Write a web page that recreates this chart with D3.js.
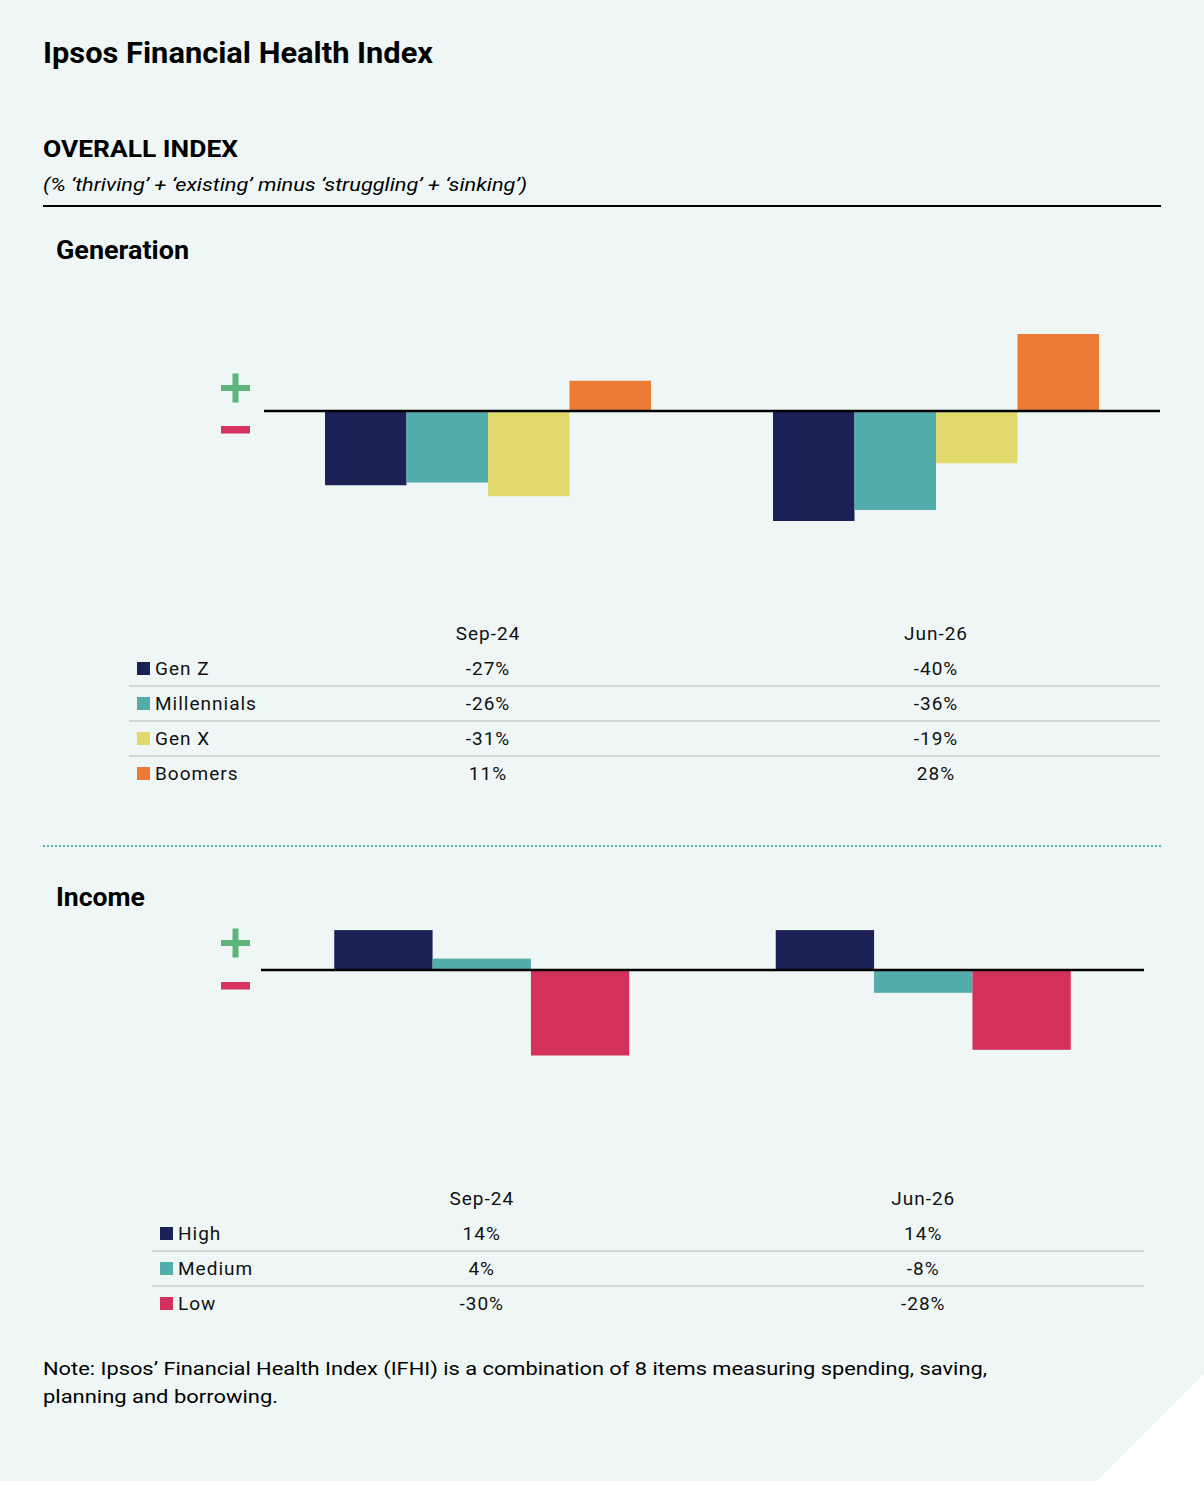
<!DOCTYPE html>
<html>
<head>
<meta charset="utf-8">
<script src="https://cdn.jsdelivr.net/npm/d3@7"></script>
<style>
  body { margin: 0; background: #ffffff; }
  svg { display: block; font-family: Roboto, 'Noto Sans', sans-serif; }
</style>
</head>
<body>
<svg id="chart" width="1204" height="1486"></svg>
<script>
// Data
const periods = ['Sep-24', 'Jun-26']
const generations = ['Gen Z', 'Millennials', 'Gen X', 'Boomers']
const genColors = ['#1b2157', '#53adab', '#e1d96b', '#ed7b38']
const genValues = {
  'Gen Z': [-27, -40],
  'Millennials': [-26, -36],
  'Gen X': [-31, -19],
  'Boomers': [11, 28]
}
const incomes = ['High', 'Medium', 'Low']
const incColors = ['#1b2157', '#53adab', '#d3315c']
const incValues = {
  'High': [14, 14],
  'Medium': [4, -8],
  'Low': [-30, -28]
}

const svg = d3.select('#chart')

// background with cut corner
svg.append('path')
  .attr('d', 'M0,0 H1204 V1374 L1097,1481 H0 Z')
  .attr('fill', '#eef7f5')

/**
 * Adds a text element fitted to a given width.
 */
function label (txt, x, y, size, weight, width, style) {
  const t = svg.append('text')
    .attr('x', x)
    .attr('y', y)
    .attr('font-size', size)
    .attr('font-weight', weight)
    .attr('fill', '#000')
    .text(txt)
  if (style) t.attr('font-style', style)
  if (width) t.attr('textLength', width).attr('lengthAdjust', 'spacingAndGlyphs')
  return t
}

// Headings
label('Ipsos Financial Health Index', 43, 63, 30, 700, 390)
label('OVERALL INDEX', 43, 157, 24, 700, 195)
label('(% \u2018thriving\u2019 + \u2018existing\u2019 minus \u2018struggling\u2019 + \u2018sinking\u2019)', 43, 191, 18, 400, 484, 'italic')
svg.append('line')
  .attr('x1', 43).attr('x2', 1161)
  .attr('y1', 206).attr('y2', 206)
  .attr('stroke', '#000').attr('stroke-width', 2)

label('Generation', 56, 259, 25, 700, 133)
label('Income', 56, 906, 25, 700, 89)

svg.append('line')
  .attr('x1', 43).attr('x2', 1161)
  .attr('y1', 846).attr('y2', 846)
  .attr('stroke', '#5ab3b2').attr('stroke-width', 2)
  .attr('stroke-dasharray', '2,2')

/**
 * Draws the plus and minus signs beside a chart.
 *
 * @param {number} base The y of the zero line
 * @param {number} plusOff Distance from zero line up to the plus centre
 * @param {number} minusOff Distance from zero line down to the minus top
 */
function drawSigns (base, plusOff, minusOff) {
  const g = svg.append('g')
  const pc = base - plusOff
  g.append('rect').attr('x', 221).attr('y', pc - 3).attr('width', 29).attr('height', 6).attr('fill', '#5db57a')
  g.append('rect').attr('x', 232.5).attr('y', pc - 14.5).attr('width', 6).attr('height', 29).attr('fill', '#5db57a')
  g.append('rect').attr('x', 221).attr('y', base + minusOff).attr('width', 29).attr('height', 7.5).attr('fill', '#d6335f')
}

/**
 * Draws a grouped bar chart plus its data table.
 */
function drawPanel (cfg) {
  const x0 = d3.scaleBand()
    .domain(periods)
    .range([cfg.left, cfg.right])
    .paddingInner(cfg.padInner)
    .paddingOuter(cfg.padInner / 2)

  const x1 = d3.scaleBand()
    .domain(cfg.series)
    .range([0, x0.bandwidth()])

  const y = d3.scaleLinear()
    .domain([-10, 10])
    .range([cfg.base + 10 * cfg.pxPer, cfg.base - 10 * cfg.pxPer])

  const color = d3.scaleOrdinal().domain(cfg.series).range(cfg.colors)

  const rows = []
  cfg.series.forEach(s => {
    periods.forEach((p, i) => rows.push({ series: s, period: p, value: cfg.values[s][i] }))
  })

  svg.append('g')
    .selectAll('rect')
    .data(rows)
    .enter()
    .append('rect')
    .attr('x', d => x0(d.period) + x1(d.series))
    .attr('width', x1.bandwidth())
    .attr('y', d => Math.min(y(d.value), y(0)))
    .attr('height', d => Math.abs(y(d.value) - y(0)))
    .attr('fill', d => color(d.series))

  // zero line
  svg.append('line')
    .attr('x1', cfg.left).attr('x2', cfg.right)
    .attr('y1', y(0)).attr('y2', y(0))
    .attr('stroke', '#000').attr('stroke-width', 2.5)

  drawSigns(y(0), cfg.plusOff, cfg.minusOff)

  // table
  const tg = svg.append('g')
    .attr('font-size', 19)
    .attr('letter-spacing', 1)
    .attr('fill', '#111')

  tg.selectAll('.head')
    .data(periods)
    .enter()
    .append('text')
    .attr('x', d => x0(d) + x0.bandwidth() / 2)
    .attr('y', cfg.tableTop)
    .attr('text-anchor', 'middle')
    .text(d => d)

  cfg.series.forEach((s, i) => {
    const ry = cfg.tableTop + cfg.rowStep * (i + 1)
    if (i > 0) {
      tg.append('line')
        .attr('x1', cfg.sepLeft).attr('x2', cfg.right)
        .attr('y1', ry - cfg.rowStep + 11).attr('y2', ry - cfg.rowStep + 11)
        .attr('stroke', '#d3d6d6').attr('stroke-width', 2)
    }
    tg.append('rect')
      .attr('x', cfg.swatchX).attr('y', ry - 13)
      .attr('width', 13).attr('height', 13)
      .attr('fill', color(s))
    tg.append('text')
      .attr('x', cfg.swatchX + 18).attr('y', ry)
      .text(s)
    tg.selectAll(null)
      .data(periods)
      .enter()
      .append('text')
      .attr('x', p => x0(p) + x0.bandwidth() / 2)
      .attr('y', ry)
      .attr('text-anchor', 'middle')
      .text((p, j) => cfg.values[s][j] + '%')
  })
}

drawPanel({
  series: generations,
  colors: genColors,
  values: genValues,
  left: 264,
  right: 1160,
  padInner: 122 / 448,
  base: 411,
  pxPer: 2.75,
  plusOff: 23,
  minusOff: 15,
  tableTop: 640,
  rowStep: 35,
  sepLeft: 129,
  swatchX: 137
})

drawPanel({
  series: incomes,
  colors: incColors,
  values: incValues,
  left: 261,
  right: 1144,
  padInner: 146.5 / 441.5,
  base: 970,
  pxPer: 2.85,
  plusOff: 27,
  minusOff: 12,
  tableTop: 1205,
  rowStep: 35,
  sepLeft: 152,
  swatchX: 160
})

// Note
label('Note: Ipsos\u2019 Financial Health Index (IFHI) is a combination of 8 items measuring spending, saving,', 43, 1375, 19, 400, 944)
label('planning and borrowing.', 43, 1403, 19, 400, 235)
</script>
</body>
</html>
